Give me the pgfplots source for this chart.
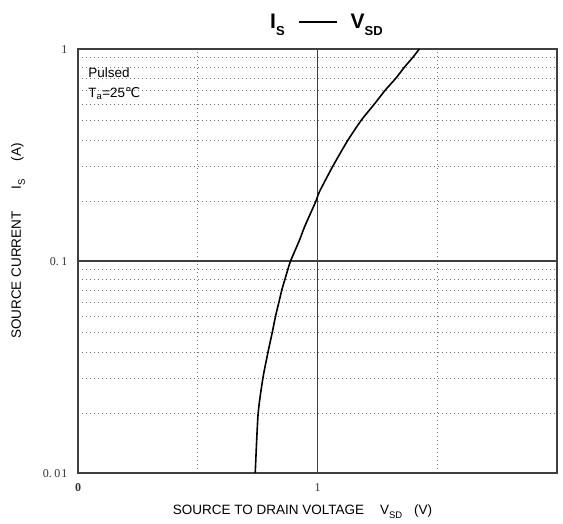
\documentclass[border=0pt]{standalone}
\usepackage{fontspec}
\setmainfont{Liberation Serif}
\setsansfont{Liberation Sans}
\newfontfamily\dejavu{DejaVu Sans}
\usepackage{pgfplots}
\pgfplotsset{compat=1.18}
\begin{document}
\begin{tikzpicture}
\begin{axis}[
  name=ax, at={(0,0)}, anchor=south west,
  scale only axis, width=479pt, height=424pt,
  xmin=0, xmax=2, ymin=0.01, ymax=1, ymode=log,
  xtick={0,1}, xticklabels={\textbf{0},1},
  ytick={0.01,0.1,1}, yticklabels={0.\kern2.5pt0\kern1pt1,0.\kern2.5pt1,1},
  minor xtick={0.5,1.5},
  minor ytick={0.019,0.028,0.037,0.046,0.055,0.064,0.073,0.082,0.091,0.19,0.28,0.37,0.46,0.55,0.64,0.73,0.82,0.91},
  grid=both,
  major grid style={draw=black!75, line width=1.5pt},
  minor grid style={draw=black!55, line width=0.9pt, dash pattern=on 0.9pt off 3.1pt},
  major tick length=0pt, minor tick length=0pt,
  axis line style={draw=black!75, line width=1.5pt},
  /pgf/number format/assume math mode=true,
  tick label style={font=\fontsize{12}{12}\selectfont, text=black!80},
  xticklabel style={yshift=-7pt},
  yticklabel style={xshift=-7pt, yshift=-1pt},
]
\addplot[black, line width=1.6pt, smooth, tension=0.4] coordinates {
(0.740,0.01)(0.752,0.019)(0.772,0.028)(0.793,0.037)(0.811,0.046)(0.825,0.055)
(0.839,0.064)(0.851,0.073)(0.864,0.082)(0.876,0.091)(0.8875,0.1)(0.925,0.1256)
(0.946,0.145)(0.992,0.19)(1.008,0.212)(1.064,0.28)(1.126,0.37)(1.182,0.46)
(1.2375,0.55)(1.283,0.64)(1.328,0.73)(1.3625,0.82)(1.397,0.91)(1.425,1.0)};
\node[anchor=north west, font=\sffamily\fontsize{13.5}{16}\selectfont, align=left, inner sep=0pt]
  at (axis cs:0.042,0.82) {Pulsed\\[4pt]T\textsubscript{a}=25{\dejavu ℃}};
\end{axis}
\node[font=\sffamily\bfseries\fontsize{21}{21}\selectfont, anchor=center]
  at ([xshift=9pt,yshift=24pt]ax.north)
  {I\raisebox{-0.35em}{\fontsize{13}{13}\selectfont S}\hspace{14pt}\rule[0.28em]{38pt}{1.6pt}\hspace{14pt}V\raisebox{-0.35em}{\fontsize{13}{13}\selectfont SD}};
\node[font=\sffamily\fontsize{13.5}{13.5}\selectfont, anchor=center]
  at ([xshift=-15pt,yshift=-39pt]ax.south)
  {SOURCE TO DRAIN VOLTAGE\hspace{16pt}V\raisebox{-0.3em}{\fontsize{9.5}{9.5}\selectfont SD}\hspace{12pt}(V)};
\node[font=\sffamily\fontsize{13.5}{13.5}\selectfont, anchor=center, rotate=90]
  at ([xshift=-60pt,yshift=20pt]ax.west)
  {SOURCE CURRENT\hspace{22pt}I\raisebox{-0.3em}{\fontsize{9.5}{9.5}\selectfont S}\hspace{18pt}(A)};
\pgfresetboundingbox
\path[use as bounding box] ([xshift=-78pt,yshift=-50pt]ax.south west) rectangle ([xshift=6pt,yshift=49pt]ax.north east);
\end{tikzpicture}
\end{document}
